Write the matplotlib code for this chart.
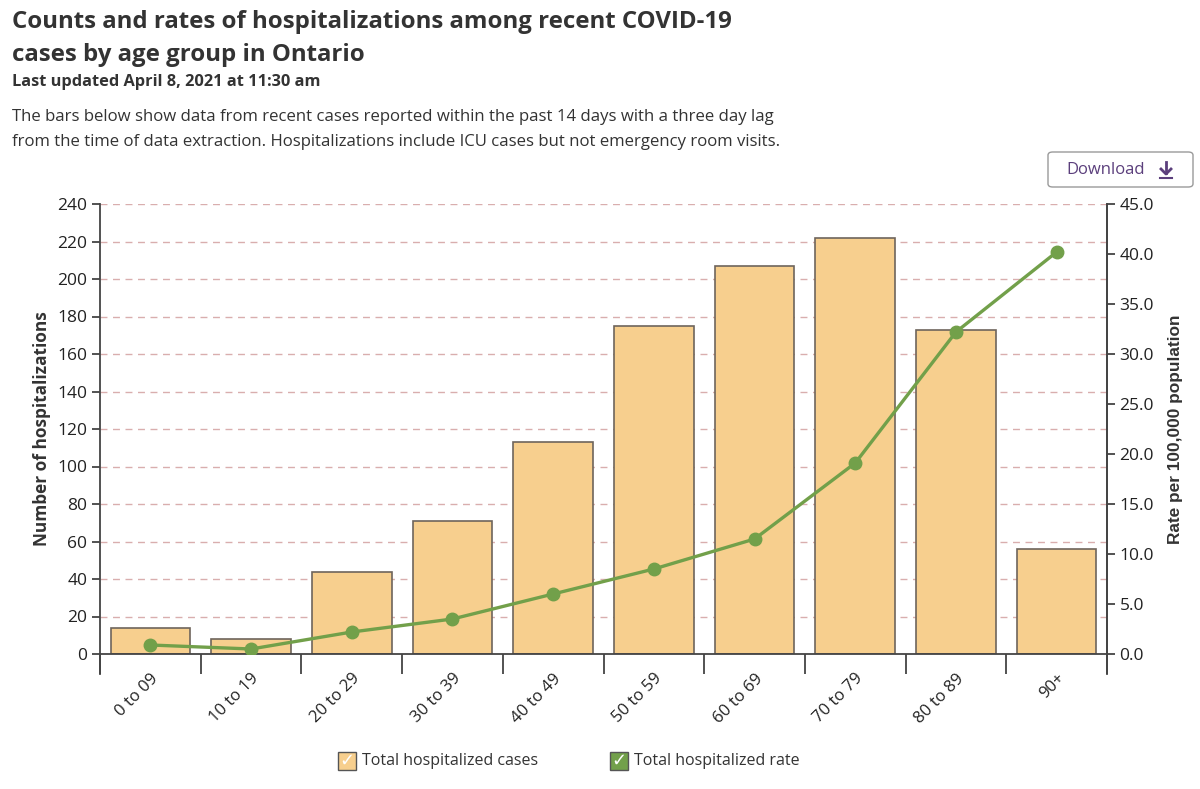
import matplotlib
matplotlib.use('Agg')
import matplotlib.pyplot as plt
from matplotlib.patches import FancyBboxPatch, Rectangle
from matplotlib.lines import Line2D
from matplotlib.ticker import FormatStrFormatter, MultipleLocator
import numpy as np

# データ
age_groups = ['0 to 09', '10 to 19', '20 to 29', '30 to 39', '40 to 49',
              '50 to 59', '60 to 69', '70 to 79', '80 to 89', '90+']
hosp_cases = [14, 8, 44, 71, 113, 175, 207, 222, 173, 56]
hosp_rate = [0.9, 0.5, 2.2, 3.5, 6.0, 8.5, 11.5, 19.1, 32.2, 40.2]

W, H = 1200, 789

plt.rcParams['font.family'] = ['Open Sans', 'DejaVu Sans']

BAR_COLOR = '#F7CF8E'
BAR_EDGE = '#6E655C'
LINE_COLOR = '#72A04A'
GRID_COLOR = '#D9AEAE'
AXIS_COLOR = '#444444'
TEXT_COLOR = '#333333'


def fy(y):
    """ピクセル座標(上から)を図座標に変換"""
    return 1 - y / H


fig = plt.figure(figsize=(W / 100, H / 100), dpi=100)
ax = fig.add_axes([100 / W, 135 / H, 1007 / W, 450 / H])

x = np.arange(len(age_groups))
ax.bar(x, hosp_cases, width=0.79, color=BAR_COLOR, edgecolor=BAR_EDGE,
       linewidth=1.2, zorder=2)
ax.set_xlim(-0.5, len(age_groups) - 0.5)
ax.set_ylim(0, 240)
ax.yaxis.set_major_locator(MultipleLocator(20))
ax.grid(True, axis='y', color=GRID_COLOR, linestyle=(0, (5, 4)), linewidth=1, zorder=0)
ax.set_axisbelow(True)

ax.spines['top'].set_visible(False)
for side in ['left', 'right', 'bottom']:
    ax.spines[side].set_color(AXIS_COLOR)
    ax.spines[side].set_linewidth(1.3)

# x軸: 区切りの目盛り
ax.set_xticks(x)
ax.set_xticklabels(age_groups, rotation=45, ha='right', rotation_mode='anchor',
                   fontsize=12, color='#222222')
ax.tick_params(axis='x', which='major', length=0, pad=12)
ax.set_xticks(np.arange(-0.5, len(age_groups), 1.0), minor=True)
ax.tick_params(axis='x', which='minor', length=14.5, width=1.3, color=AXIS_COLOR)
ax.tick_params(axis='y', length=6, width=1.3, color=AXIS_COLOR, labelsize=12.5,
               labelcolor='#222222', pad=3)

# 軸線を下に延長
for xa in [0, 1]:
    ax.add_line(Line2D([xa, xa], [0, -20 / 450], transform=ax.transAxes,
                       color=AXIS_COLOR, linewidth=1.3, clip_on=False))

ax.set_ylabel('Number of hospitalizations', fontsize=12.4, fontweight='bold',
              color=TEXT_COLOR, labelpad=5)

# 右軸: 率
ax2 = ax.twinx()
ax2.plot(x, hosp_rate, color=LINE_COLOR, linewidth=2.4, marker='o',
         markersize=9, zorder=5)
ax2.set_ylim(0, 45)
ax2.yaxis.set_major_locator(MultipleLocator(5))
ax2.yaxis.set_major_formatter(FormatStrFormatter('%.1f'))
ax2.tick_params(axis='y', length=6, width=1.3, color=AXIS_COLOR, labelsize=12.5,
                labelcolor='#222222', pad=3)
for side in ['top', 'left', 'bottom']:
    ax2.spines[side].set_visible(False)
ax2.spines['right'].set_color(AXIS_COLOR)
ax2.spines['right'].set_linewidth(1.3)
ax2.set_ylabel('Rate per 100,000 population', fontsize=12.4, fontweight='bold',
               color=TEXT_COLOR, family=['Liberation Sans', 'DejaVu Sans'], labelpad=10)

# タイトルと説明文
fig.text(12 / W, fy(28), 'Counts and rates of hospitalizations among recent COVID-19',
         fontsize=17.3, fontweight='bold', color=TEXT_COLOR, va='baseline')
fig.text(12 / W, fy(61), 'cases by age group in Ontario',
         fontsize=17.3, fontweight='bold', color=TEXT_COLOR, va='baseline')
fig.text(12 / W, fy(86), 'Last updated April 8, 2021 at 11:30 am',
         fontsize=11.8, fontweight='bold', color=TEXT_COLOR, va='baseline')
fig.text(12 / W, fy(121),
         'The bars below show data from recent cases reported within the past 14 days with a three day lag',
         fontsize=12.1, color=TEXT_COLOR, va='baseline')
fig.text(12 / W, fy(146),
         'from the time of data extraction. Hospitalizations include ICU cases but not emergency room visits.',
         fontsize=12.1, color=TEXT_COLOR, va='baseline')

# ダウンロードボタン
btn = FancyBboxPatch((1048 / W, fy(187)), 145 / W, 35 / H,
                     boxstyle='round,pad=0,rounding_size=0.004',
                     transform=fig.transFigure, facecolor='white',
                     edgecolor='#9A9A9A', linewidth=1)
fig.patches.append(btn)
fig.text(1066 / W, fy(170), 'Download', fontsize=12, color='#5B3F7C',
         fontweight='medium', va='center', ha='left')
fig.add_artist(Line2D([1166 / W, 1166 / W], [fy(162), fy(173)], color='#5B3F7C',
                      linewidth=2))
fig.add_artist(Line2D([1161 / W, 1166 / W, 1171 / W], [fy(169), fy(174), fy(169)],
                      color='#5B3F7C', linewidth=2))
fig.add_artist(Line2D([1160 / W, 1172 / W], [fy(178), fy(178)], color='#5B3F7C',
                      linewidth=1.5))

# 凡例
for x0, col, label in [(338, BAR_COLOR, 'Total hospitalized cases'),
                       (610, LINE_COLOR, 'Total hospitalized rate')]:
    fig.patches.append(Rectangle((x0 / W, fy(770)), 18 / W, 18 / H,
                                 transform=fig.transFigure, facecolor=col,
                                 edgecolor='#555555', linewidth=1))
    fig.text((x0 + 9) / W, fy(761), '✓', fontsize=13, color='white',
             fontweight='bold', ha='center', va='center', family='DejaVu Sans')
    fig.text((x0 + 24) / W, fy(761), label, fontsize=11.5, color=TEXT_COLOR,
             ha='left', va='center')

fig.savefig('out.png', dpi=100, facecolor='white')
